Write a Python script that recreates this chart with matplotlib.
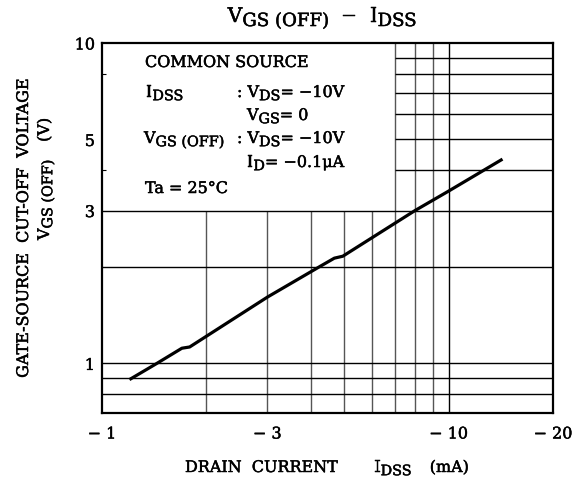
import matplotlib
matplotlib.use('Agg')
import matplotlib.pyplot as plt
import matplotlib.patheffects as pe
import numpy as np

plt.rcParams['font.family'] = ['DejaVu Serif']
plt.rcParams['mathtext.fontset'] = 'dejavuserif'

# curve: |IDSS| (mA) vs VGS(OFF) (V)
idss = [1.20, 1.44, 1.70, 1.79, 3.0, 4.23, 4.68, 4.95, 8.0, 10.0, 14.3]
vgs_off = [0.89, 1.00, 1.115, 1.125, 1.61, 2.00, 2.13, 2.16, 3.00, 3.45, 4.34]

x_ticks = [1, 3, 10, 20]
x_ticklabels = ['\u2212 1', '\u2212 3', '\u2212 10', '\u2212 20']
y_ticks = [1, 3, 5, 10]
y_ticklabels = ['1', '3', '5', '10']

# grid lines (left upper part is left blank for the condition text)
vgrid_low = [2, 3, 4, 5, 6, 7, 8, 9]
vgrid_high = [7, 8, 9]
hgrid_full = [0.8, 0.9, 1, 2, 3]
hgrid_right = [4, 5, 6, 7, 8, 9]

W, H = 574, 479
fig = plt.figure(figsize=(W / 100, H / 100), dpi=100)
ax = fig.add_axes([102 / W, 1 - 413 / H, (553 - 102) / W, (413 - 43) / H])
ax.set_xscale('log')
ax.set_yscale('log')
ax.set_xlim(1, 20)
ax.set_ylim(0.7, 10)

ax.vlines(vgrid_low, 0.7, 3, color='#555555', lw=1.0, zorder=1)
ax.vlines(vgrid_high, 3, 10, color='#555555', lw=1.0, zorder=1)
ax.vlines([10], 0.7, 10, color='black', lw=1.0, zorder=1)
ax.hlines(hgrid_full, 1, 20, color='black', lw=1.0, zorder=1)
ax.hlines(hgrid_right, 7, 20, color='black', lw=1.0, zorder=1)

ax.plot(idss, vgs_off, color='black', lw=2.3, solid_capstyle='butt', zorder=3)

ax.set_xticks(x_ticks)
ax.set_xticklabels(x_ticklabels)
ax.set_yticks(y_ticks)
ax.set_yticklabels(y_ticklabels)
ax.minorticks_off()
ax.set_yticks([4, 8], minor=True)
ax.set_yticklabels([], minor=True)
ax.tick_params(axis='x', which='major', length=0, labelsize=11.5, pad=9)
ax.tick_params(axis='y', which='major', length=0, labelsize=11.5, pad=5)
ax.tick_params(axis='y', which='minor', direction='in', length=3, width=0.8)
for s in ax.spines.values():
    s.set_linewidth(1.6)

heavy = [pe.withStroke(linewidth=0.35, foreground='black')]
for lab in ax.get_xticklabels() + ax.get_yticklabels():
    lab.set_path_effects(heavy)

renderer = fig.canvas.get_renderer()


def rich(x, y, parts, fs, ha='left', rot=0, sub=0.9, drop=0.2):
    """Draw text pieces one after another; (text, 1) pieces are subscripts,
    numbers are gaps in pixels. x, y: start of baseline, pixels from top-left."""
    items = []
    total = 0
    for p in parts:
        if isinstance(p, (int, float)):
            items.append((None, p, 0))
            total += p
            continue
        s, is_sub = p
        size = fs * sub if is_sub else fs
        t = fig.text(0, 0, s, fontsize=size, rotation=rot, rotation_mode='anchor',
                     ha='left', va='baseline', path_effects=heavy)
        bb = t.get_window_extent(renderer)
        w = bb.width if rot == 0 else bb.height
        items.append((t, w, is_sub))
        total += w
    pos = -total / 2 if ha == 'center' else 0
    d = drop * fs * 100 / 72
    for t, w, is_sub in items:
        if t is not None:
            off = d if is_sub else 0
            if rot == 0:
                t.set_position(((x + pos) / W, 1 - (y + off) / H))
            else:
                t.set_position(((x + off) / W, 1 - (y - pos) / H))
        pos += w


fs = 11.5
rich(322, 22, [('V', 0), ('GS (OFF)', 1), 12, ('\u2212', 0), 12, ('I', 0), ('DSS', 1)],
     14.5, ha='center')
rich(145, 67, [('COMMON SOURCE', 0)], fs)
rich(146, 97, [('I', 0), ('DSS', 1)], fs)
rich(237, 97, [(': V', 0), ('DS', 1), ('= \u221210V', 0)], fs)
rich(247, 120, [('V', 0), ('GS', 1), ('= 0', 0)], fs)
rich(144, 143, [('V', 0), ('GS (OFF)', 1)], fs)
rich(237, 143, [(': V', 0), ('DS', 1), ('= \u221210V', 0)], fs)
rich(247, 167, [('I', 0), ('D', 1), ('= \u22120.1\u03bcA', 0)], fs)
rich(145, 193, [('Ta = 25\u00b0C', 0)], fs)

rich(327, 472, [('DRAIN  CURRENT', 0), 36, ('I', 0), ('DSS', 1), 18, ('(mA)', 0)],
     fs, ha='center')
rich(28, 228, [('GATE-SOURCE  CUT-OFF  VOLTAGE', 0)], fs, ha='center', rot=90)
rich(49, 240, [('V', 0), ('GS (OFF)', 1), 18, ('(V)', 0)], fs, rot=90)

fig.savefig('out.png', dpi=100)
